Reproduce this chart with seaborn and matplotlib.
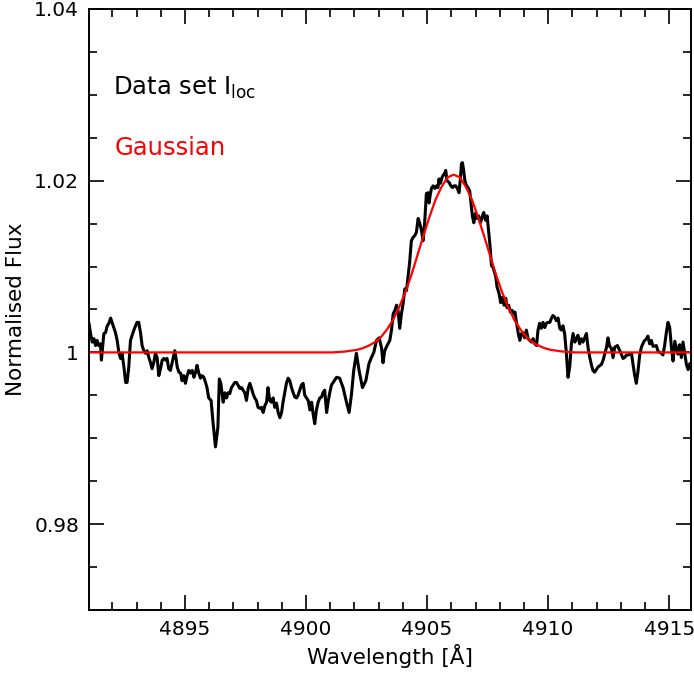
import matplotlib
matplotlib.use("Agg")
import matplotlib.pyplot as plt
import seaborn as sns
import numpy as np
import pandas as pd
from matplotlib.ticker import MultipleLocator, FixedLocator

wavelength = [
    4891.03, 4891.10, 4891.17, 4891.24, 4891.31, 4891.37, 4891.44, 4891.51, 4891.55, 4891.61,
    4891.65, 4891.72, 4891.79, 4891.86, 4891.93, 4891.99, 4892.06, 4892.13, 4892.20, 4892.27,
    4892.34, 4892.40, 4892.48, 4892.55, 4892.61, 4892.68, 4892.75, 4892.82, 4892.89, 4892.96,
    4893.02, 4893.09, 4893.17, 4893.23, 4893.30, 4893.37, 4893.44, 4893.51, 4893.58, 4893.64,
    4893.71, 4893.78, 4893.85, 4893.92, 4893.99, 4894.06, 4894.13, 4894.20, 4894.26, 4894.33,
    4894.40, 4894.47, 4894.54, 4894.58, 4894.63, 4894.68, 4894.75, 4894.82, 4894.88, 4894.95,
    4895.02, 4895.09, 4895.16, 4895.23, 4895.30, 4895.37, 4895.44, 4895.50, 4895.57, 4895.64,
    4895.71, 4895.78, 4895.85, 4895.91, 4895.98, 4896.08, 4896.15, 4896.26, 4896.36, 4896.42,
    4896.48, 4896.58, 4896.65, 4896.72, 4896.78, 4896.85, 4896.92, 4896.99, 4897.06, 4897.13,
    4897.19, 4897.27, 4897.34, 4897.40, 4897.47, 4897.54, 4897.61, 4897.68, 4897.75, 4897.81,
    4897.88, 4897.95, 4898.02, 4898.09, 4898.16, 4898.23, 4898.30, 4898.37, 4898.43, 4898.50,
    4898.57, 4898.64, 4898.71, 4898.78, 4898.85, 4898.92, 4898.99, 4899.05, 4899.12, 4899.19,
    4899.26, 4899.33, 4899.40, 4899.47, 4899.54, 4899.61, 4899.67, 4899.74, 4899.81, 4899.88,
    4899.95, 4900.02, 4900.09, 4900.16, 4900.23, 4900.29, 4900.36, 4900.43, 4900.50, 4900.57,
    4900.64, 4900.70, 4900.77, 4900.85, 4900.91, 4900.98, 4901.05, 4901.12, 4901.26, 4901.39,
    4901.53, 4901.67, 4901.78, 4901.88, 4901.97, 4902.08, 4902.19, 4902.33, 4902.47, 4902.60,
    4902.70, 4902.80, 4902.91, 4903.02, 4903.12, 4903.18, 4903.25, 4903.35, 4903.46, 4903.53,
    4903.60, 4903.67, 4903.74, 4903.80, 4903.87, 4903.94, 4904.01, 4904.08, 4904.15, 4904.21,
    4904.28, 4904.35, 4904.42, 4904.49, 4904.56, 4904.63, 4904.70, 4904.77, 4904.83, 4904.90,
    4904.97, 4905.04, 4905.08, 4905.14, 4905.18, 4905.25, 4905.32, 4905.39, 4905.45, 4905.49,
    4905.55, 4905.62, 4905.66, 4905.73, 4905.77, 4905.82, 4905.91, 4905.98, 4906.05, 4906.11,
    4906.18, 4906.25, 4906.32, 4906.38, 4906.42, 4906.46, 4906.51, 4906.56, 4906.63, 4906.69,
    4906.76, 4906.80, 4906.87, 4906.93, 4907.00, 4907.06, 4907.13, 4907.20, 4907.29, 4907.34,
    4907.41, 4907.48, 4907.53, 4907.59, 4907.66, 4907.72, 4907.79, 4907.84, 4907.89, 4907.97,
    4908.04, 4908.11, 4908.18, 4908.25, 4908.30, 4908.37, 4908.44, 4908.51, 4908.58, 4908.63,
    4908.69, 4908.76, 4908.83, 4908.90, 4908.96, 4909.03, 4909.10, 4909.17, 4909.24, 4909.31,
    4909.38, 4909.45, 4909.52, 4909.58, 4909.65, 4909.72, 4909.79, 4909.86, 4909.93, 4909.99,
    4910.07, 4910.14, 4910.20, 4910.27, 4910.34, 4910.41, 4910.48, 4910.55, 4910.61, 4910.68,
    4910.75, 4910.82, 4910.89, 4910.96, 4911.03, 4911.10, 4911.17, 4911.23, 4911.30, 4911.37,
    4911.44, 4911.51, 4911.58, 4911.65, 4911.72, 4911.79, 4911.85, 4911.92, 4912.06, 4912.20,
    4912.27, 4912.41, 4912.47, 4912.54, 4912.61, 4912.68, 4912.75, 4912.86, 4912.96, 4913.03,
    4913.09, 4913.16, 4913.23, 4913.30, 4913.44, 4913.50, 4913.57, 4913.64, 4913.71, 4913.78,
    4913.85, 4913.96, 4914.06, 4914.12, 4914.19, 4914.26, 4914.33, 4914.47, 4914.54, 4914.68,
    4914.74, 4914.81, 4914.88, 4914.95, 4915.02, 4915.09, 4915.16, 4915.23, 4915.30, 4915.36,
    4915.43, 4915.50, 4915.57, 4915.64, 4915.71, 4915.78, 4915.85,
]
flux = [
    1.0035, 1.0022, 1.0012, 1.0016, 1.0008, 1.0014, 1.0008, 1.0010, 0.9991, 1.0010,
    1.0022, 1.0023, 1.0031, 1.0034, 1.0040, 1.0035, 1.0029, 1.0023, 1.0014, 1.0000,
    0.9993, 0.9999, 0.9983, 0.9965, 0.9965, 0.9983, 1.0014, 1.0020, 1.0026, 1.0031,
    1.0035, 1.0035, 1.0022, 1.0008, 1.0002, 0.9999, 1.0002, 0.9994, 0.9988, 0.9981,
    0.9988, 0.9999, 0.9994, 0.9973, 0.9981, 0.9991, 0.9993, 0.9991, 0.9993, 0.9981,
    0.9979, 0.9988, 0.9997, 1.0002, 0.9993, 0.9983, 0.9977, 0.9976, 0.9967, 0.9973,
    0.9964, 0.9973, 0.9979, 0.9976, 0.9979, 0.9971, 0.9977, 0.9985, 0.9976, 0.9970,
    0.9973, 0.9971, 0.9965, 0.9959, 0.9947, 0.9944, 0.9921, 0.9890, 0.9913, 0.9969,
    0.9964, 0.9942, 0.9953, 0.9947, 0.9953, 0.9952, 0.9959, 0.9962, 0.9965, 0.9965,
    0.9962, 0.9958, 0.9959, 0.9956, 0.9953, 0.9944, 0.9958, 0.9964, 0.9958, 0.9952,
    0.9947, 0.9944, 0.9936, 0.9935, 0.9936, 0.9930, 0.9938, 0.9942, 0.9959, 0.9944,
    0.9942, 0.9947, 0.9936, 0.9941, 0.9930, 0.9924, 0.9930, 0.9942, 0.9953, 0.9964,
    0.9970, 0.9967, 0.9959, 0.9953, 0.9948, 0.9947, 0.9950, 0.9956, 0.9962, 0.9964,
    0.9950, 0.9947, 0.9944, 0.9933, 0.9942, 0.9929, 0.9917, 0.9933, 0.9942, 0.9947,
    0.9948, 0.9953, 0.9956, 0.9930, 0.9942, 0.9953, 0.9962, 0.9965, 0.9971, 0.9970,
    0.9959, 0.9942, 0.9930, 0.9952, 0.9979, 0.9999, 0.9979, 0.9959, 0.9967, 0.9987,
    0.9994, 1.0000, 1.0014, 1.0017, 1.0005, 0.9988, 1.0002, 1.0008, 1.0014, 1.0026,
    1.0045, 1.0049, 1.0055, 1.0049, 1.0028, 1.0045, 1.0057, 1.0074, 1.0072, 1.0087,
    1.0105, 1.0130, 1.0134, 1.0136, 1.0140, 1.0156, 1.0150, 1.0142, 1.0130, 1.0151,
    1.0185, 1.0186, 1.0174, 1.0185, 1.0191, 1.0194, 1.0191, 1.0194, 1.0192, 1.0202,
    1.0197, 1.0204, 1.0206, 1.0209, 1.0212, 1.0200, 1.0198, 1.0194, 1.0192, 1.0194,
    1.0194, 1.0191, 1.0186, 1.0204, 1.0220, 1.0221, 1.0212, 1.0200, 1.0194, 1.0192,
    1.0188, 1.0177, 1.0159, 1.0151, 1.0162, 1.0156, 1.0159, 1.0151, 1.0159, 1.0163,
    1.0154, 1.0159, 1.0145, 1.0127, 1.0101, 1.0099, 1.0093, 1.0087, 1.0076, 1.0069,
    1.0058, 1.0064, 1.0055, 1.0063, 1.0052, 1.0055, 1.0047, 1.0049, 1.0045, 1.0047,
    1.0035, 1.0023, 1.0014, 1.0022, 1.0023, 1.0017, 1.0026, 1.0016, 1.0014, 1.0012,
    1.0016, 1.0010, 1.0008, 1.0026, 1.0034, 1.0028, 1.0035, 1.0029, 1.0034, 1.0035,
    1.0035, 1.0040, 1.0043, 1.0041, 1.0037, 1.0040, 1.0028, 1.0026, 1.0031, 1.0022,
    1.0000, 0.9971, 0.9983, 1.0010, 1.0022, 1.0012, 1.0016, 1.0020, 1.0010, 1.0016,
    1.0012, 1.0017, 1.0022, 1.0005, 0.9994, 0.9985, 0.9979, 0.9977, 0.9983, 0.9986,
    0.9991, 1.0006, 1.0017, 1.0007, 1.0005, 0.9994, 1.0006, 1.0008, 1.0002, 0.9997,
    0.9993, 0.9994, 0.9997, 0.9997, 0.9999, 0.9987, 0.9974, 0.9964, 0.9978, 0.9997,
    1.0006, 1.0013, 1.0016, 1.0019, 1.0010, 1.0014, 1.0007, 1.0008, 1.0001, 0.9999,
    0.9997, 1.0008, 1.0023, 1.0035, 1.0029, 1.0006, 0.9990, 1.0013, 1.0005, 0.9998,
    1.0009, 0.9994, 1.0012, 0.9999, 0.9986, 0.9980, 0.9987,
]

# ---- Gaussian fit curve ----
gauss_wavelength = [
    4891.0, 4900.6, 4901.1, 4901.6, 4902.1, 4902.35, 4902.6, 4902.85, 4903.1, 4903.35,
    4903.6, 4903.85, 4904.1, 4904.35, 4904.6, 4904.85, 4905.1, 4905.35, 4905.6, 4905.85,
    4906.1, 4906.35, 4906.6, 4906.85, 4907.1, 4907.35, 4907.6, 4907.85, 4908.1, 4908.35,
    4908.6, 4908.85, 4909.1, 4909.35, 4909.6, 4909.85, 4910.1, 4910.6, 4911.1, 4916.0,
]
gauss_flux = [
    1.0000, 1.0000, 1.0000, 1.0001, 1.0003, 1.0005, 1.0008, 1.0012, 1.0018, 1.0027,
    1.0038, 1.0053, 1.0070, 1.0090, 1.0113, 1.0136, 1.0158, 1.0178, 1.0193, 1.0204,
    1.0207, 1.0204, 1.0193, 1.0178, 1.0158, 1.0136, 1.0113, 1.0090, 1.0070, 1.0053,
    1.0038, 1.0027, 1.0018, 1.0012, 1.0008, 1.0005, 1.0003, 1.0001, 1.0000, 1.0000,
]

x_ticks = [4895, 4900, 4905, 4910, 4915]
y_ticks = [0.98, 1.00, 1.02, 1.04]
y_tick_labels = ["0.98", "1", "1.02", "1.04"]

sns.set_style("ticks")
plt.rcParams['font.family'] = ['DejaVu Sans']
plt.rcParams['text.color'] = 'black'
plt.rcParams['axes.labelcolor'] = 'black'
plt.rcParams['xtick.color'] = 'black'
plt.rcParams['ytick.color'] = 'black'

fig = plt.figure(figsize=(6.94, 6.75), dpi=100)
ax = fig.add_axes([0.128, 0.0963, 0.8677, 0.8904])

obs = pd.DataFrame({"wavelength": wavelength, "flux": flux})
fit = pd.DataFrame({"wavelength": gauss_wavelength, "flux": gauss_flux})

sns.lineplot(data=obs, x="wavelength", y="flux", ax=ax, color="black",
             linewidth=2.2, sort=False, estimator=None)
sns.lineplot(data=fit, x="wavelength", y="flux", ax=ax, color="#ff0000",
             linewidth=1.6, sort=False, estimator=None)

ax.set_xlim(4891.03, 4915.9)
ax.set_ylim(0.97, 1.04)

ax.xaxis.set_major_locator(FixedLocator(x_ticks))
ax.xaxis.set_minor_locator(MultipleLocator(1))
ax.yaxis.set_major_locator(FixedLocator(y_ticks))
ax.set_yticklabels(y_tick_labels)
ax.yaxis.set_minor_locator(MultipleLocator(0.005))

ax.tick_params(which="both", direction="in", top=True, right=True,
               color="black", labelcolor="black", width=1.2)
ax.tick_params(which="major", length=11, labelsize=14.5, pad=7)
ax.tick_params(which="minor", length=6)
for s in ax.spines.values():
    s.set_linewidth(1.4)
    s.set_color("black")

ax.set_xlabel("Wavelength [Å]", fontsize=15.5, labelpad=4, color="black")
ax.set_ylabel("Normalised Flux", fontsize=15.5, labelpad=6, color="black")

ax.text(0.04, 0.857, r"Data set I$_{\mathregular{loc}}$", transform=ax.transAxes,
        fontsize=17.5, color="black", ha="left", va="baseline")
ax.text(0.043, 0.757, "Gaussian", transform=ax.transAxes,
        fontsize=17.5, color="#ff0000", ha="left", va="baseline")

fig.savefig("out.png", dpi=100)
